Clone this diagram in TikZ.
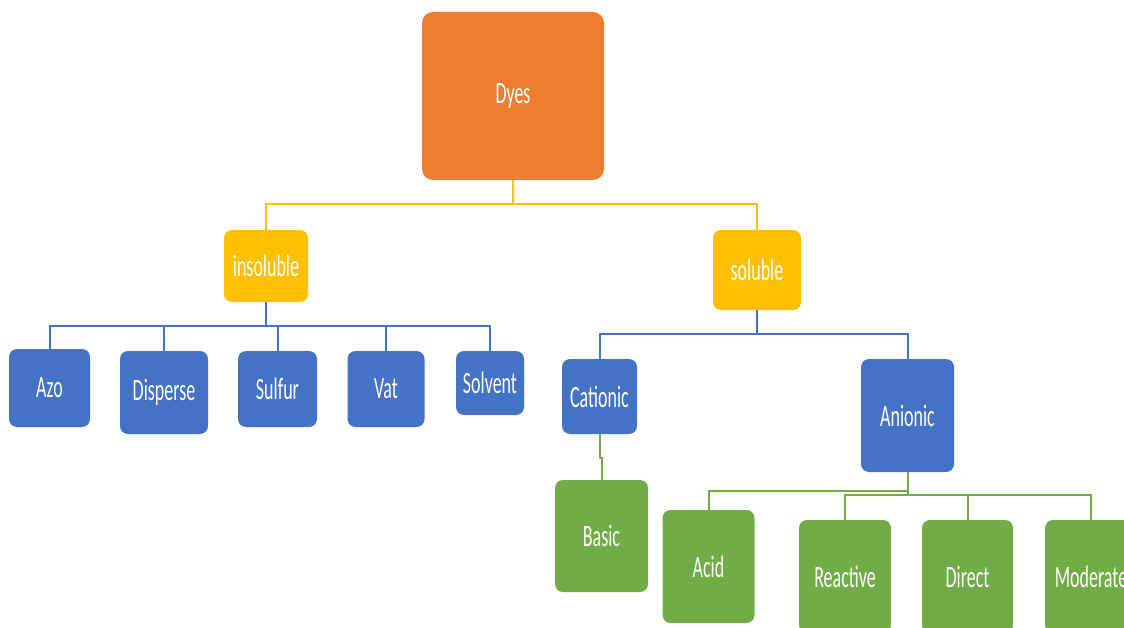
\documentclass[tikz,border=0pt]{standalone}
\usepackage{fontspec}
\setmainfont{Carlito}[FakeStretch=0.58]
\usepackage{tikz}

\definecolor{dyeorange}{HTML}{ED7D31}
\definecolor{dyeyellow}{HTML}{FFC000}
\definecolor{dyeblue}{HTML}{4472C4}
\definecolor{dyegreen}{HTML}{70AD47}

\begin{document}
\begin{tikzpicture}[x=1pt,y=-1pt,
  box/.style={rectangle,rounded corners=8pt,inner sep=0pt,text=white,
    font=\fontsize{31}{36}\selectfont},
  wh/.style 2 args={minimum width=#1pt,minimum height=#2pt},
  root/.style={box,fill=dyeorange,rounded corners=11pt},
  group/.style={box,fill=dyeyellow},
  kind/.style={box,fill=dyeblue},
  leaf/.style={box,fill=dyegreen},
  link/.style={line width=2pt}]
\path[use as bounding box,clip] (0,0) rectangle (1124,628);

\node [root,wh={182}{168}] (dyes) at (513,96) {Dyes};

\node [group,wh={84}{72}] (insol) at (266,266) {insoluble};
\node [group,wh={88}{80}] (sol) at (757,270) {soluble};

\node [kind,wh={81}{78}] (azo) at (49.5,388) {Azo};
\node [kind,wh={88}{83}] (disp) at (164,392.5) {Disperse};
\node [kind,wh={79}{76}] (sulf) at (277.5,389) {Sulfur};
\node [kind,wh={77}{76}] (vat) at (386,389) {Vat};
\node [kind,wh={68}{64}] (solv) at (490,383) {Solvent};
\node [kind,wh={75}{75}] (cat) at (599.5,396.5) {Cationic};
\node [kind,wh={93}{113}] (anion) at (907.5,415.5) {Anionic};

\node [leaf,wh={93}{112}] (basic) at (601.5,536) {Basic};
\node [leaf,wh={92}{113}] (acid) at (708.5,566.5) {Acid};
\node [leaf,wh={92}{113}] (react) at (845,576.5) {Reactive};
\node [leaf,wh={91}{113}] (direct) at (967.5,576.5) {Direct};
\node [leaf,wh={92}{113}] (moder) at (1091,576.5) {Moderate};

\foreach \n in {insol,sol}
  \draw [link,dyeyellow] (dyes.south) -- ++(0,24) -| (\n.north);
\foreach \n in {azo,disp,sulf,vat,solv}
  \draw [link,dyeblue] (insol.south) -- ++(0,24) -| (\n.north);
\foreach \n in {cat,anion}
  \draw [link,dyeblue] (sol.south) -- ++(0,24) -| (\n.north);
\draw [link,dyegreen] (cat.south) -- ++(0,24) -| (basic.north);
\draw [link,dyegreen] (anion.south) -- ++(0,19) -| (acid.north);
\foreach \n in {react,direct,moder}
  \draw [link,dyegreen] (anion.south) -- ++(0,23) -| (\n.north);
\end{tikzpicture}
\end{document}
